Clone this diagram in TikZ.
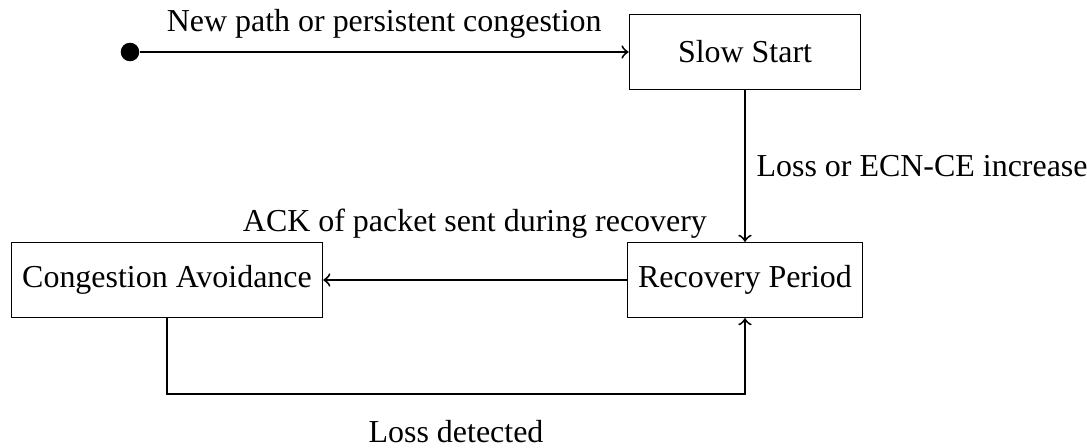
\documentclass[tikz,border=0pt]{standalone}
\usepackage{fontspec}
\setmainfont{Liberation Serif}
\usetikzlibrary{positioning}

\begin{document}
\begin{tikzpicture}[
        x=0.313pt, y=-0.313pt,
        statenode/.style={rectangle, draw=black, minimum width=72.5pt, minimum height=23.5pt, inner xsep=3.4pt},
        initnode/.style={circle, fill=black, inner sep=0pt, minimum size=5.8pt},
        arrowline/.style={semithick, ->},
        ]
        \useasboundingbox (0,0) rectangle (1087,448);

        % States
        \node[initnode] (init) at (130,52) { };
        \node[statenode] (ss) at (745,52) {Slow Start};
        \node[statenode] (rp) at (745,280) {Recovery Period};
        \node[statenode] (ca) at (167,280) {Congestion Avoidance};

        % Start
        \draw[arrowline] (init) -- node[above=0.5pt] {New path or persistent congestion} (ss);

        % Slow Start to Recovery
        \draw[arrowline] (ss) -- node[right] {Loss or ECN-CE increase} (rp);

        % Recovery back to Congestion Avoidance
        \draw[arrowline] (rp) -- node[above=9.5pt] {ACK of packet sent during recovery} (ca);

        % Congestion Avoidance to Recovery
        \draw[arrowline] (ca.south) -- ++(0,76) -| node[pos=0.25, below=4.5pt] {Loss detected} (rp.south);

    \end{tikzpicture}
\end{document}
